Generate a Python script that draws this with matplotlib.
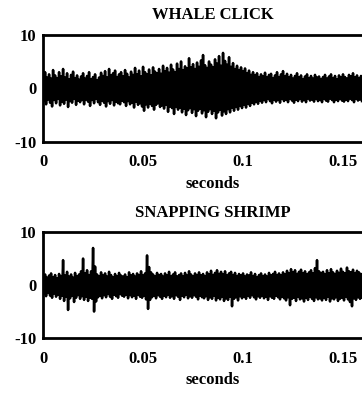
import matplotlib
matplotlib.use("Agg")
import matplotlib.pyplot as plt
import numpy as np

# envelope of each recording, one value per millisecond
whale_upper = [
    2.2, 3.0, 2.0, 2.6, 1.8, 3.4, 2.4, 1.9, 3.0, 2.2, 3.6, 2.0, 2.8, 1.7, 2.5, 3.1, 1.9, 2.4, 1.6, 2.2,
    2.8, 1.8, 2.3, 3.0, 1.7, 2.1, 2.6, 1.5, 2.0, 2.9, 2.3, 3.2, 2.0, 3.6, 2.4, 2.8, 3.3, 2.1, 2.6, 3.0,
    2.2, 3.4, 2.7, 2.0, 3.1, 2.5, 3.8, 2.6, 3.3, 2.2, 4.0, 3.0, 2.6, 3.5, 2.4, 3.9, 3.1, 2.8, 3.6, 2.7,
    4.2, 3.2, 3.8, 2.9, 4.4, 3.5, 3.0, 4.6, 3.6, 5.0, 3.4, 4.1, 3.7, 5.6, 3.9, 4.5, 3.6, 4.8, 4.0, 5.2,
    6.2, 4.3, 3.8, 5.0, 4.4, 3.9, 5.4, 4.6, 6.0, 4.2, 6.6, 5.1, 4.4, 5.8, 4.0, 4.7, 3.6, 4.2, 3.4, 3.9,
    3.2, 3.7, 2.8, 3.3, 2.5, 3.0, 2.4, 2.8, 2.1, 2.6, 2.2, 2.9, 2.0, 2.5, 2.7, 1.9, 2.4, 3.0, 2.1, 2.6,
    3.2, 2.2, 2.7, 2.0, 2.5, 1.8, 2.3, 2.8, 2.0, 2.4, 1.7, 2.2, 2.6, 1.9, 2.3, 1.8, 2.5, 2.0, 2.2, 1.7,
    2.1, 2.5, 1.8, 2.2, 2.6, 1.9, 2.3, 1.7, 2.4, 2.0, 2.6, 2.1, 1.8, 2.5, 2.2, 2.8, 2.0, 2.4, 1.9, 2.3,
]
whale_lower = [
    -2.4, -3.0, -2.1, -2.7, -3.4, -2.2, -2.8, -2.0, -3.2, -2.5, -2.9, -2.1, -3.5, -2.4, -2.7, -2.0, -3.1, -2.3, -2.6, -2.2,
    -3.0, -2.1, -2.5, -3.3, -2.2, -2.8, -2.0, -2.6, -3.1, -2.3, -2.7, -3.4, -2.4, -2.9, -2.2, -3.2, -2.5, -2.8, -3.0, -2.3,
    -2.6, -3.3, -2.4, -3.0, -2.7, -3.6, -2.5, -3.1, -2.8, -3.4, -4.2, -3.0, -3.6, -2.9, -3.3, -4.0, -3.1, -2.8, -3.5, -3.2,
    -3.8, -3.1, -4.4, -3.4, -3.7, -4.8, -3.5, -4.0, -3.6, -4.5, -3.8, -5.0, -4.1, -3.7, -4.6, -3.9, -5.2, -4.2, -3.8, -4.7,
    -4.1, -5.4, -4.4, -3.9, -4.8, -4.2, -5.6, -4.5, -4.0, -5.1, -4.3, -4.8, -3.9, -4.5, -3.6, -4.2, -3.5, -4.0, -3.3, -3.7,
    -3.1, -3.6, -2.9, -3.3, -2.7, -3.0, -2.5, -2.9, -2.3, -2.7, -2.2, -2.6, -2.0, -2.4, -2.8, -2.1, -2.5, -2.2, -2.7, -2.0,
    -2.4, -2.1, -2.6, -2.0, -2.3, -2.7, -2.1, -2.4, -2.0, -2.5, -2.2, -2.6, -1.9, -2.3, -2.1, -2.5, -2.0, -2.4, -2.2, -2.6,
    -2.0, -2.3, -2.5, -1.9, -2.2, -2.6, -2.1, -2.4, -2.0, -2.3, -2.5, -2.1, -2.4, -1.9, -2.2, -2.6, -2.0, -2.3, -2.1, -2.4,
]
shrimp_upper = [
    1.6, 2.0, 1.4, 1.8, 2.2, 1.5, 1.9, 1.3, 2.1, 1.7, 4.7, 1.8, 2.5, 1.6, 2.0, 1.4, 2.3, 1.7, 2.0, 2.6,
    5.0, 2.2, 2.8, 1.9, 2.6, 7.0, 3.5, 2.0, 1.7, 2.4, 1.8, 2.2, 1.6, 2.5, 1.9, 1.5, 2.1, 1.7, 2.3, 1.8,
    1.6, 2.0, 1.5, 2.4, 1.8, 2.1, 1.6, 2.2, 1.9, 2.6, 1.8, 2.2, 5.6, 3.4, 2.4, 2.0, 1.7, 2.3, 1.9, 2.1,
    1.6, 2.2, 1.8, 2.5, 1.7, 2.0, 2.4, 1.6, 1.9, 2.2, 1.7, 2.3, 1.8, 2.6, 2.0, 1.7, 2.2, 1.9, 2.4, 1.8,
    2.1, 1.7, 2.4, 2.0, 2.7, 1.9, 2.3, 2.8, 2.1, 2.5, 2.0, 2.6, 1.8, 2.2, 2.5, 1.9, 2.3, 1.7, 2.1, 1.8,
    2.2, 1.6, 2.0, 1.8, 2.4, 1.7, 2.1, 1.5, 1.9, 2.2, 1.7, 2.0, 1.6, 2.3, 1.8, 2.1, 2.5, 1.9, 2.2, 1.8,
    2.4, 2.0, 2.7, 2.2, 3.0, 2.4, 2.8, 2.1, 2.5, 2.9, 2.2, 2.6, 2.0, 2.4, 2.8, 2.2, 3.2, 4.7, 2.6, 2.3,
    2.5, 2.0, 2.8, 2.2, 3.0, 2.4, 2.1, 2.7, 2.3, 3.1, 2.5, 2.2, 3.3, 2.6, 2.4, 2.9, 2.2, 2.7, 2.4, 2.1,
]
shrimp_lower = [
    -1.7, -2.1, -1.5, -2.0, -2.4, -1.6, -2.2, -1.8, -2.6, -2.0, -3.0, -2.2, -4.7, -2.5, -2.0, -3.2, -2.4, -1.9, -2.6, -2.1,
    -2.8, -2.2, -3.0, -2.4, -2.6, -5.0, -3.1, -2.3, -2.0, -2.5, -1.9, -2.3, -1.7, -2.2, -2.6, -1.8, -2.1, -2.4, -1.7, -2.0,
    -2.2, -1.8, -2.5, -1.9, -2.3, -2.0, -2.6, -1.8, -2.2, -2.4, -2.0, -2.7, -4.5, -2.8, -2.3, -2.0, -2.5, -1.9, -2.2, -2.6,
    -2.0, -2.3, -1.8, -2.4, -2.1, -2.6, -1.9, -2.2, -2.8, -2.0, -2.3, -1.8, -2.5, -2.1, -2.4, -1.9, -2.2, -2.7, -2.0, -2.3,
    -2.5, -2.1, -2.8, -2.3, -2.6, -2.0, -2.9, -2.4, -2.7, -2.2, -3.0, -2.5, -2.8, -2.2, -4.0, -2.6, -2.3, -2.9, -2.1, -2.5,
    -2.2, -2.6, -2.0, -2.4, -1.9, -2.3, -2.7, -2.1, -2.4, -2.0, -2.5, -2.2, -2.8, -2.1, -2.4, -2.6, -2.0, -2.3, -2.7, -2.2,
    -2.5, -2.9, -2.3, -3.8, -2.6, -2.4, -3.0, -2.2, -2.7, -2.5, -3.1, -2.4, -2.8, -2.2, -2.6, -3.0, -2.3, -2.7, -2.5, -2.9,
    -2.4, -2.8, -2.2, -3.1, -2.5, -2.7, -2.3, -3.0, -2.6, -2.4, -2.9, -2.2, -2.7, -3.2, -4.0, -2.5, -2.8, -2.3, -2.6, -2.4,
]

titles = ["WHALE CLICK", "SNAPPING SHRIMP"]
xticks = [0, 0.05, 0.1, 0.15]
xtick_labels = ["0", "0.05", "0.1", "0.15"]
yticks = [-10, 0, 10]
ytick_labels = ["-10", "0", "10"]
dt = 0.001

plt.rcParams["font.family"] = ["Liberation Serif", "DejaVu Serif"]
plt.rcParams["font.weight"] = "bold"

fig = plt.figure(figsize=(3.62, 3.94), dpi=100)
# right edge of the axes runs past the page, as in the scan
positions = [[0.119, 0.640, 0.939, 0.272], [0.119, 0.142, 0.939, 0.269]]
signals = [(whale_upper, whale_lower), (shrimp_upper, shrimp_lower)]

for pos, title, (up, lo) in zip(positions, titles, signals):
    ax = fig.add_axes(pos)
    n = len(up)
    t = np.arange(n) * dt
    # zig-zag between envelope values so the trace fills solid like the plot
    tt = np.empty(2 * n)
    yy = np.empty(2 * n)
    tt[0::2] = t
    tt[1::2] = t + dt / 2
    yy[0::2] = up
    yy[1::2] = lo
    ax.plot(tt, yy, color="black", linewidth=1.8)
    ax.set_xlim(0, 0.17)
    ax.set_ylim(-10, 10)
    ax.set_xticks(xticks)
    ax.set_xticklabels(xtick_labels)
    ax.set_yticks(yticks)
    ax.set_yticklabels(ytick_labels)
    ax.tick_params(axis="y", length=0, labelsize=12, pad=5)
    ax.tick_params(axis="x", length=0, labelsize=12, pad=9)
    for s in ax.spines.values():
        s.set_linewidth(2.0)
    ax.set_title(title, fontsize=12, fontweight="bold", pad=11)
    ax.set_xlabel("seconds", fontsize=12, fontweight="bold", labelpad=4)

fig.savefig("out.png", dpi=100)
plt.close(fig)
